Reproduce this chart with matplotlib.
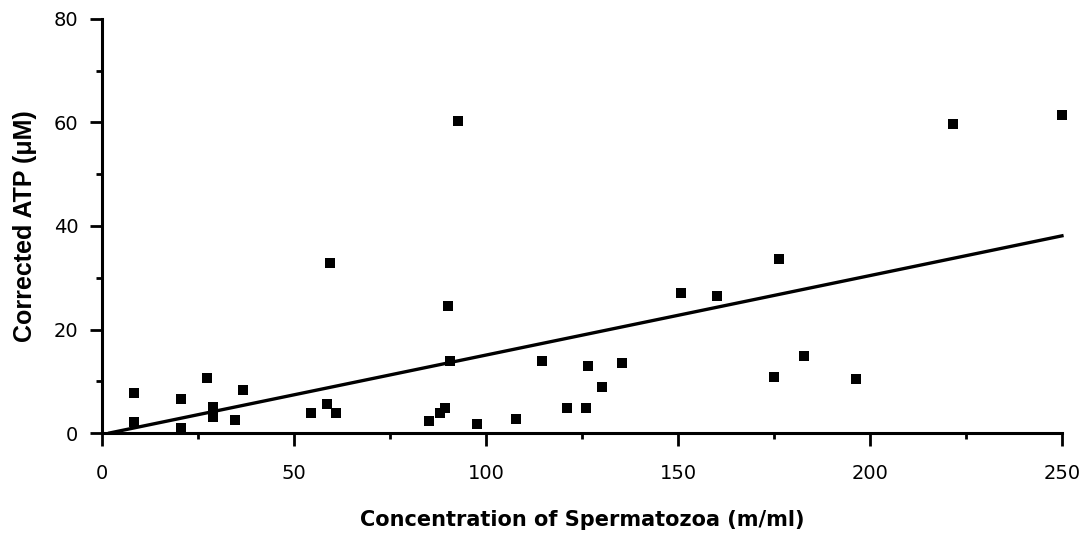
import matplotlib.pyplot as plt
from matplotlib.ticker import MultipleLocator

plt.rcParams['font.family'] = ['DejaVu Sans']

# sperm concentration (m/ml) vs corrected ATP (uM)
conc = [8.4, 8.4, 20.5, 20.5, 27.4, 29.0, 29.0, 34.6, 36.8, 54.4, 58.7, 60.9,
        59.4, 90.0, 90.6, 85.2, 88.0, 89.4, 92.7, 97.7, 107.7, 114.7, 121.2,
        126.1, 126.6, 130.3, 135.3, 150.8, 160.1, 175.1, 176.4, 182.7, 196.4,
        221.6, 250.0]
atp = [7.7, 2.2, 0.9, 6.6, 10.7, 5.1, 3.1, 2.6, 8.3, 3.8, 5.7, 3.8,
       32.9, 24.6, 14.0, 2.3, 3.8, 4.8, 60.3, 1.7, 2.8, 14.0, 4.8,
       4.8, 12.9, 8.9, 13.5, 27.0, 26.4, 10.9, 33.6, 14.8, 10.4,
       59.8, 61.5]

# regression line as drawn
fit_slope = 0.1536
fit_intercept = -0.3
fit_range = [2, 250]

fig = plt.figure(figsize=(10.92, 5.33), dpi=100)
ax = fig.add_axes([0.0934, 0.1876, 0.8791, 0.7768])

ax.scatter(conc, atp, marker='s', s=60, color='black', zorder=3,
           linewidths=0, clip_on=False)
ax.plot(fit_range, [fit_slope * x + fit_intercept for x in fit_range],
        color='black', lw=2.4, zorder=2, clip_on=False)

ax.set_xlim(0, 250)
ax.set_ylim(0, 80)
ax.xaxis.set_major_locator(MultipleLocator(50))
ax.xaxis.set_minor_locator(MultipleLocator(25))
ax.yaxis.set_major_locator(MultipleLocator(20))
ax.yaxis.set_minor_locator(MultipleLocator(10))

for side in ['top', 'right']:
    ax.spines[side].set_visible(False)
for side in ['left', 'bottom']:
    ax.spines[side].set_linewidth(2.2)

ax.tick_params(which='major', direction='out', length=9, width=2, labelsize=14)
ax.tick_params(which='minor', direction='out', length=4.5, width=2)
ax.tick_params(axis='x', which='major', pad=13)
ax.tick_params(axis='y', which='major', pad=8)

ax.set_xlabel('Concentration of Spermatozoa (m/ml)', fontsize=15,
              fontweight='bold', labelpad=20)
ax.set_ylabel('Corrected ATP (\u03bcM)', fontsize=18, fontweight='bold',
              labelpad=12, family=['Liberation Sans', 'DejaVu Sans'])

fig.savefig('out.png', dpi=100)
